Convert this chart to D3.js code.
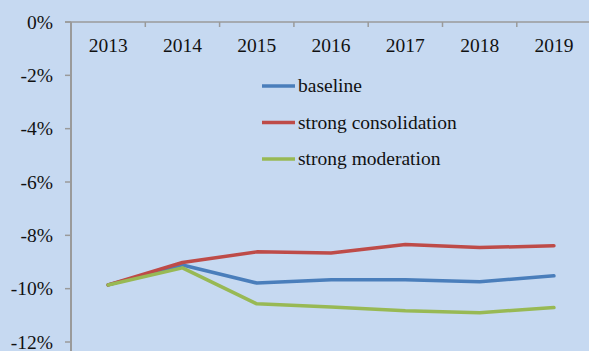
<!DOCTYPE html>
<html>
<head>
<meta charset="utf-8">
<script src="https://cdn.jsdelivr.net/npm/d3@7"></script>
<style>
  html, body { margin: 0; padding: 0; background: #c6d9f1; }
  svg { display: block; }
  text { font-family: "Liberation Serif", "Times New Roman", serif; fill: #111; }
</style>
</head>
<body>
<svg id="chart" width="589" height="351"></svg>
<script>
// Projected path, in % (2013–2019), under three scenarios
const years = ["2013", "2014", "2015", "2016", "2017", "2018", "2019"];
const baseline = [-9.86, -9.11, -9.79, -9.67, -9.67, -9.74, -9.52];
const strongConsolidation = [-9.86, -9.02, -8.62, -8.66, -8.34, -8.46, -8.39];
const strongModeration = [-9.86, -9.22, -10.57, -10.69, -10.83, -10.90, -10.71];
const yTicks = [0, -2, -4, -6, -8, -10, -12];

const seriesNames = ["baseline", "strong consolidation", "strong moderation"];
const seriesValues = [baseline, strongConsolidation, strongModeration];
const seriesColors = ["#4a7ebb", "#be4b48", "#98b954"];

const W = 589, H = 351;
const plotLeft = 71, plotTop = 22, plotBottom = 342;
const fontSize = 19.5;

const svg = d3.select("#chart");
svg.append("rect").attr("width", W).attr("height", H).attr("fill", "#c6d9f1");

const x = d3.scaleBand().domain(years).range([plotLeft, plotLeft + 7 * 74.3]);
const y = d3.scaleLinear().domain([0, -12]).range([plotTop, plotBottom]);

const axisColor = "#9a9a9a";

// Y axis: line with outward ticks
const yAxis = svg.append("g").attr("transform", `translate(${plotLeft},0)`);
yAxis.append("line").attr("x1", 0).attr("x2", 0).attr("y1", plotTop).attr("y2", H)
  .attr("stroke", axisColor).attr("stroke-width", 2);
yAxis.selectAll("line.tick").data(yTicks).join("line")
  .attr("class", "tick")
  .attr("x1", -6).attr("x2", 0)
  .attr("y1", d => y(d)).attr("y2", d => y(d))
  .attr("stroke", axisColor).attr("stroke-width", 1.5);
yAxis.selectAll("text").data(yTicks).join("text")
  .attr("x", -18).attr("y", d => y(d)).attr("dy", "0.34em")
  .attr("text-anchor", "end").attr("font-size", fontSize)
  .text(d => d + "%");

// X axis at the top (0% line) with category boundary ticks
const xAxis = svg.append("g");
xAxis.append("line").attr("x1", plotLeft - 6).attr("x2", W).attr("y1", y(0)).attr("y2", y(0))
  .attr("stroke", axisColor).attr("stroke-width", 1.5);
xAxis.selectAll("line.tick").data(years.slice(1)).join("line")
  .attr("class", "tick")
  .attr("x1", d => x(d)).attr("x2", d => x(d))
  .attr("y1", y(0)).attr("y2", y(0) + 5)
  .attr("stroke", axisColor).attr("stroke-width", 1.5);
xAxis.selectAll("text").data(years).join("text")
  .attr("x", d => x(d) + x.bandwidth() / 2).attr("y", 52)
  .attr("text-anchor", "middle").attr("font-size", fontSize)
  .text(d => d);

// Series lines
const line = d3.line()
  .x((d, i) => x(years[i]) + x.bandwidth() / 2)
  .y(d => y(d));

svg.append("g").selectAll("path").data([0, 1, 2]).join("path")
  .attr("d", i => line(seriesValues[i]))
  .attr("fill", "none")
  .attr("stroke", i => seriesColors[i])
  .attr("stroke-width", 3.5)
  .attr("stroke-linejoin", "round")
  .attr("stroke-linecap", "round");

// Legend
const legendRows = [86, 122.5, 159];
const legend = svg.append("g");
seriesNames.forEach((name, i) => {
  legend.append("line")
    .attr("x1", 262).attr("x2", 295)
    .attr("y1", legendRows[i]).attr("y2", legendRows[i])
    .attr("stroke", seriesColors[i]).attr("stroke-width", 3.5);
  legend.append("text")
    .attr("x", 298).attr("y", legendRows[i] + 6)
    .attr("font-size", fontSize)
    .text(name);
});
</script>
</body>
</html>
